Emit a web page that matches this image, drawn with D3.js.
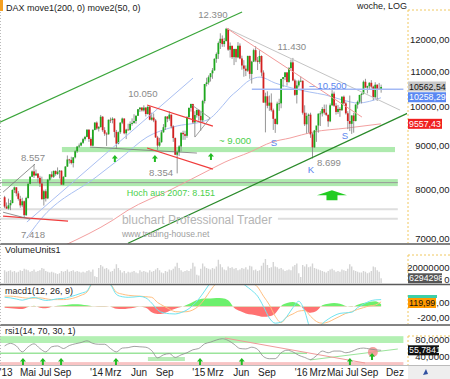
<!DOCTYPE html>
<html><head><meta charset="utf-8">
<script src="https://cdn.jsdelivr.net/npm/d3@7/dist/d3.min.js"></script>
<style>
body{margin:0;background:#fff;}
svg{display:block;font-family:"Liberation Sans",Arial,sans-serif;}
</style></head><body>
<svg id="c" width="450" height="379"></svg>
<script>
// ---------------- DATA ----------------
const startWeek = "2013-02-04";
// weekly candles [open, high, low, close]
const candles = [
[7830,7860,7600,7634],[7634,7720,7590,7593],[7593,7800,7570,7661],[7661,7770,7560,7708],[7708,8000,7700,7986],
[7986,8060,7920,8043],[8043,8050,7850,7912],[7912,7960,7760,7795],[7795,7860,7610,7659],[7659,7820,7620,7745],
[7745,7760,7418,7459],[7459,7840,7440,7814],[7814,8130,7800,8122],[8122,8290,8110,8278],[8278,8420,8270,8399],
[8399,8557,8250,8306],[8306,8440,8300,8349],[8349,8360,8150,8254],[8254,8300,8050,8127],[8127,8280,7780,7789],
[7789,7990,7655,7959],[7959,8000,7740,7806],[7806,8230,7790,8212],[8212,8340,8180,8331],[8331,8400,8240,8276],
[8276,8420,8250,8410],[8410,8420,8300,8338],[8338,8490,8320,8391],[8391,8430,8240,8416],[8416,8420,8100,8103],
[8103,8290,8090,8275],[8275,8520,8270,8510],[8510,8770,8500,8675],[8675,8690,8580,8665],[8665,8740,8560,8591],
[8591,8730,8490,8725],[8725,8900,8700,8870],[8870,9000,8830,8985],[8985,9060,8950,9010],[9010,9100,8990,9078],
[9078,9200,9050,9168],[9168,9250,9130,9224],[9224,9420,9210,9405],[9405,9420,9100,9172],[9172,9210,9010,9006],
[9006,9420,8990,9400],[9400,9600,9390,9589],[9589,9620,9400,9435],
[9435,9500,9360,9473],[9473,9790,9460,9743],[9743,9760,9350,9393],[9393,9470,9250,9306],[9306,9340,9000,9290],
[9290,9670,9280,9663],[9663,9720,9580,9657],[9657,9730,9570,9692],[9692,9700,9210,9350],[9350,9400,8935,9056],
[9056,9360,9040,9342],[9342,9600,9300,9587],[9587,9720,9550,9695],[9695,9700,9290,9315],[9315,9430,9170,9409],
[9409,9560,9390,9401],[9401,9620,9380,9556],[9556,9700,9510,9581],[9581,9810,9560,9630],[9630,9780,9560,9769],
[9769,9950,9760,9943],[9943,10000,9870,9987],[9987,10000,9880,9912],[9912,10050,9880,9987],[9987,10000,9750,9815],
[9815,10033,9800,10009],[10009,10030,9650,9666],[9666,9850,9640,9720],[9720,9830,9600,9644],[9644,9680,9200,9210],
[9210,9250,8903,9009],[9009,9200,8980,9092],[9092,9390,9080,9339],[9339,9550,9330,9470],[9470,9760,9400,9747],
[9747,9760,9600,9691],[9691,9890,9640,9799],[9799,9800,9440,9490],[9490,9520,9100,9195],[9195,9210,8780,8788],
[8788,8890,8354,8850],[8850,9020,8760,8988],[8988,9340,8870,9326],[9326,9380,9150,9291],[9291,9380,9150,9252],
[9252,9760,9200,9732],[9732,9990,9700,9980],[9980,10093,9880,10087],[10087,10090,9560,9594],[9594,9890,9220,9787],
[9787,9930,9720,9927],[9927,9930,9640,9765],
[9765,9880,9380,9648],[9648,10200,9600,10167],[10167,10650,10100,10649],[10649,10830,10580,10694],[10694,10900,10630,10847],
[10847,10970,10720,10963],[10963,11120,10800,11050],[11050,11420,11040,11401],[11401,11600,11280,11550],[11550,11950,11400,11901],
[11901,12220,11710,12040],[12040,12150,11780,11868],[11868,12070,11780,11967],[11967,12390,11950,12375],[12375,12380,11650,11689],
[11689,11920,11440,11811],[11811,11820,11400,11454],[11454,11720,11210,11709],[11709,11720,11300,11447],[11447,11930,11420,11815],
[11815,11890,11390,11413],[11413,11500,11070,11197],[11197,11360,10860,11100],[11100,11200,10880,11040],[11040,11500,11000,11492],
[11492,11500,10800,10945],[10945,11340,10660,11315],[11315,11720,11300,11674],[11674,11800,11300,11347],[11347,11460,11060,11308],
[11308,11670,11250,11490],[11490,11510,10870,10985],[10985,11050,10120,10124],[10124,10400,9338,10298],[10298,10440,9970,10039],
[10039,10320,9900,10123],[10123,10380,9880,9916],[9916,9960,9400,9688],[9688,9690,9325,9553],[9553,10150,9530,10097],
[10097,10230,9900,10104],[10104,10800,9970,10795],[10795,10850,10560,10850],[10850,11000,10760,10988],[10988,11000,10600,10708],
[10708,11150,10680,11119],[11119,11380,11040,11293],[11293,11430,10730,10752],[10752,10800,10310,10340],[10340,10750,10100,10608],
[10608,10770,10550,10727],[10727,10870,10700,10743],
[10743,10750,9800,9849],[9849,10050,9500,9545],[9545,9850,9310,9765],[9765,9830,9330,9798],[9798,9850,9200,9287],
[9287,9330,8699,8967],[8967,9400,8950,9388],[9388,9460,9100,9513],[9513,9830,9330,9824],[9824,9890,9500,9831],
[9831,10000,9750,9950],[9950,10070,9800,9851],[9851,10070,9760,9794],[9794,9800,9480,9622],[9622,10100,9600,10051],
[10051,10474,10030,10373],[10373,10430,10010,10039],[10039,10110,9800,9870],[9870,10060,9820,9952],[9952,10000,9740,9916],
[9916,10300,9900,10287],[10287,10320,10080,10103],[10103,10150,9800,9834],[9834,9890,9420,9631],[9631,10320,9370,9557],
[9557,9780,9300,9776],[9776,9850,9330,9630],[9630,10090,9620,10066],[10066,10180,9960,10147],[10147,10340,10100,10337],
[10337,10400,10100,10367],[10367,10750,10350,10713],[10713,10800,10540,10544],[10544,10600,10380,10587],[10587,10700,10500,10684],
[10684,10760,10520,10573],[10573,10600,10190,10276],[10276,10700,10240,10627],[10627,10640,10170,10511],[10511,10680,10480,10490],
[10490,10630,10400,10562.54]
];
// weekly volume, millions
const volumes = [
17,15,16,17,15,16,14,15,17,16, 19,18,17,15,16,18,15,16,17,20,
19,16,15,14,15,14,13,12,13,16, 15,16,18,15,16,17,15,16,15,14,
15,14,16,17,15,18,9,8,20,24, 22,19,20,18,15,16,19,25,20,17,
14,16,13,15,14,15,16,14,13,17, 15,16,15,14,17,15,16,18,20,17,
14,13,16,15,18,17,19,22,27,20, 17,15,16,17,16,19,27,22,11,10,
19,26,22,20,19,18,20,19,22,31, 25,21,18,17,22,20,21,19,20,17,
18,20,19,21,18,23,22,17,18,16, 17,23,27,32,24,20,21,28,22,21,
19,20,18,16,17,18,17,22,24,26, 13,8,24,22,25,21,22,26,20,19,
18,17,16,15,14,16,18,19,17,15, 16,15,18,17,16,19,25,22,17,16,
15,14,14,16,15,13,14,16,22,21, 17,15,6.294298
];
// indicators, sampled every 3 weeks
const indStep = 3;
const macdVals = [160,150,130,110,135,160,130,105,115,135,140,165,195,230,270,420,440,430,380,210,170,160,165,175,150,60,-60,-110,-125,-130,-105,-60,20,130,270,420,560,650,640,520,440,360,280,180,0,-200,-290,-270,-170,-20,90,-80,-380,-420,-300,-220,-160,-120,-110,-100,-20,40,90,115,120];
const signalVals = [180,180,170,155,145,145,150,135,120,120,120,130,155,195,250,410,430,420,385,250,215,195,185,180,170,160,70,10,-45,-90,-95,-90,-60,10,130,280,410,505,530,540,520,480,420,340,180,30,-170,-280,-180,-130,-80,-70,-170,-260,-290,-270,-220,-170,-120,-90,-50,-20,10,25,80];
const histVals = [-20,-30,-40,-45,-10,15,-20,-30,-5,15,20,35,40,35,20,5,10,10,-5,-40,-45,-35,-20,-5,-20,-100,-130,-120,-80,-40,-10,30,80,120,140,140,150,145,110,-20,-80,-120,-140,-160,-180,-170,-120,10,60,80,40,-60,-110,-80,20,50,60,50,10,-10,30,60,80,90,40];
const rsiVals = [66,72,66,52,64,71,60,52,64,66,60,67,71,74,78,72,70,70,60,52,61,62,65,64,63,55,38,45,48,39,45,50,57,60,71,75,80,83,79,70,60,59,63,58,41,36,36,50,56,52,44,39,34,43,54,50,54,54,50,53,59,61,59,57,55.78];
// moving averages [date, value]
const ma50 = [["2013-04-25",7000],["2013-06-13",7358],["2013-12-30",8270],["2014-04-01",8730],["2014-06-30",9220],["2014-09-30",9474],["2015-01-30",9655],["2015-04-04",10113],["2015-04-22",10278],["2015-05-17",10450],["2015-07-02",10764],["2015-08-07",10850],["2015-09-30",10676],["2015-11-29",10533],["2016-02-01",10418],["2016-03-26",10340],["2016-05-29",10195],["2016-07-22",10113],["2016-10-12",10258.29]];
const ma200 = [["2013-08-01",6780],["2013-09-10",6875],["2014-02-28",7358],["2014-04-23",7560],["2014-09-20",7984],["2015-02-20",8474],["2015-04-04",8614],["2015-07-02",8851],["2015-09-19",9095],["2015-11-22",9195],["2016-02-12",9346],["2016-06-12",9448],["2016-10-12",9557.43]];
// x axis labels
const xTickLabels = [["2013-01-01","'13"],["2013-05-01","Mai"],["2013-07-01","Jul"],["2013-09-01","Sep"],["2014-01-01","'14"],["2014-03-01","Mrz"],["2014-06-01","Jun"],["2014-09-01","Sep"],["2015-01-01","'15"],["2015-03-01","Mrz"],["2015-06-01","Jun"],["2015-09-01","Sep"],["2016-01-01","'16"],["2016-03-01","Mrz"],["2016-05-01","Mai"],["2016-07-01","Jul"],["2016-09-01","Sep"],["2016-12-01","Dez"]];
const priceTicks = [7000,8000,9000,10000,11000,12000];
const volTicks = [0,20];
const macdTicks = [0,-200];
const rsiTicks = [80,40];
// drawn annotations (date, price)
const trendLines = [
 [["2013-01-21",9600],["2015-06-04",12950],"#3aa53a",1.2],
 [["2014-04-23",6910],["2017-01-16",9840],"#2a8a2a",1.2],
 [["2013-04-27",7320],["2014-12-11",10820],"#aabff2",1],
 [["2015-04-10",12390],["2016-12-19",9920],"#c4c4c4",1],
 [["2015-04-10",12390],["2016-08-05",9735],"#f29a9a",1],
 [["2015-07-09",10500],["2016-12-31",10500],"#a3b9f5",1.5],
 [["2013-12-08",8973],["2014-12-25",8828],"#777",0.8],
 [["2014-06-30",10057],["2015-02-20",9499],"#f03c3c",1.2],
 [["2014-06-30",8949],["2015-02-20",8451],"#f03c3c",1.2],
 [["2014-12-07",10057],["2015-02-10",9708],"#888",0.8],
 [["2014-12-18",9220],["2015-02-10",9708],"#888",0.8],
 [["2013-02-01",7439],["2013-09-21",7338],"#f03c3c",1.2],
 [["2013-02-01",7940],["2013-05-26",8568],"#777",0.8],
 [["2013-02-01",7518],["2013-05-08",7378],"#777",0.8]
];
const priceBands = [["2013-08-30","2016-12-01",8850,8975],["2013-01-28","2016-12-11",8070,8225]];
const priceHLines = [["2013-01-01","2016-12-11",8147,"#999",1],["2013-01-01","2016-12-11",7580,"#dedede",2],["2013-01-01","2014-02-28",7388,"#dedede",2],["2015-10-10","2016-12-11",7388,"#dedede",2]];
const priceLabels = [
 ["2015-02-20",12840,"12.390","#8a8a8a"],["2015-11-29",11770,"11.430","#8a8a8a"],["2014-06-15",10360,"10.050","#8a8a8a"],
 ["2013-05-19",8730,"8.557","#8a8a8a"],["2014-08-19",8380,"8.354","#8a8a8a"],["2013-05-19",7080,"7.418","#8a8a8a"],
 ["2016-04-09",8610,"8.699","#8a8a8a"],["2015-09-26",9070,"S","#5b86ee"],["2016-06-05",9245,"S","#5b86ee"],
 ["2016-02-05",8450,"K","#5b86ee"],["2015-05-10",9120,"~ 9.000","#4ccf4c"],["2014-09-23",7920,"Hoch aus 2007: 8.151","#4ccf4c"],
 ["2016-04-06",10590,"– 10.500","#5b86ee"]
];
const priceArrows = [["2014-03-07",8779],["2014-07-28",8779],["2015-02-13",8828]];
const bigArrow = ["2016-04-20",7982];
const rsiBands = [["2013-01-01","2016-12-31",73,89,"#b3f0b3"],["2013-01-01","2016-12-31",21,28,"#f8c4c4"],["2014-07-03","2014-11-12",30.6,40,"#b8ecb8"]];
const rsiLinesA = [[["2013-01-01",48.7],["2016-01-22",48.7],"#9be49b",1.5],[["2016-02-01",33],["2016-12-11",58.8],"#9be49b",1],[["2015-04-04",84.7],["2016-08-16",25.9],"#f09a9a",1]];
const rsiCircle = ["2016-09-13",51.8];
const rsiArrows = [["2013-04-13",37.6],["2013-06-23",37.6],["2013-08-27",37.6],["2014-03-11",37.6],["2015-01-05",37.6],["2015-06-03",37.6],["2016-06-23",37.6],["2016-09-10",49.4]];
const lastValues = {close:"10562,54", ma50:"10258,29", ma200:"9557,43", vol:"6294298", macd:"119,99", rsi:"55,7841"};

// ---------------- SCALES ----------------
const svg = d3.select("#c");
const PR = 407;
const parse = d3.timeParse("%Y-%m-%d");
const x = d3.scaleTime().domain([new Date(2013,4,1), new Date(2016,11,1)]).range([28,395]);
const pY = d3.scaleLog().domain([7000,12000]).range([238.5,40]);
const vY = d3.scaleLinear().domain([0,20]).range([283,268]);
const mY = d3.scaleLinear().domain([0,-200]).range([306.5,318]);
const rY = d3.scaleLinear().domain([0,100]).range([374,331.5]);
const t0 = parse(startWeek);
const wk = i => new Date(t0.getTime() + (7*i+2.5)*864e5);

const defs = svg.append("defs");
function clip(id,x0,y0,w,h){defs.append("clipPath").attr("id",id).append("rect").attr("x",x0).attr("y",y0).attr("width",w).attr("height",h);}
clip("cp",0,0,PR,244); clip("cv",0,245,PR,39); clip("cm",0,285,PR,40); clip("cr",0,326,PR,39);
clip("cmPos",0,285,PR,306.5-285); clip("cmNeg",0,306.5,PR,20);

svg.append("rect").attr("width",450).attr("height",379).attr("fill","#fff");

// ---------------- PRICE PANEL ----------------
const gp = svg.append("g").attr("clip-path","url(#cp)");
priceBands.forEach(b=>{
  gp.append("rect").attr("x",x(parse(b[0]))).attr("width",x(parse(b[1]))-x(parse(b[0])))
    .attr("y",pY(b[3])).attr("height",pY(b[2])-pY(b[3])).attr("fill","#aeeaae");
});
priceHLines.forEach(l=>{
  gp.append("line").attr("x1",x(parse(l[0]))).attr("x2",x(parse(l[1]))).attr("y1",pY(l[2])).attr("y2",pY(l[2]))
    .attr("stroke",l[3]).attr("stroke-width",l[4]);
});
// watermark
svg.append("text").attr("x",x(parse("2014-02-28"))+9).attr("y",pY(7388)+5).attr("font-size",12).attr("fill","#b5b5b5").text("bluchart Professional Trader");
svg.append("text").attr("x",x(parse("2014-02-28"))+9).attr("y",pY(7388)+18).attr("font-size",8.6).attr("fill","#a0a0a0").text("www.trading-house.net");

const lineGen = d3.line().x(d=>x(parse(d[0]))).y(d=>pY(d[1]));
const curveGen = d3.line().curve(d3.curveMonotoneX).x(d=>x(parse(d[0]))).y(d=>pY(d[1]));
gp.append("path").attr("d",curveGen(ma200)).attr("fill","none").attr("stroke","#f3a0a0").attr("stroke-width",1);
gp.append("path").attr("d",curveGen(ma50)).attr("fill","none").attr("stroke","#a9c0f3").attr("stroke-width",1);

// candles
const cg = gp.append("g");
candles.forEach((c,i)=>{
  const cx = x(wk(i)); const up = c[3]>=c[0];
  cg.append("line").attr("x1",cx).attr("x2",cx).attr("y1",pY(c[1])).attr("y2",pY(c[2])).attr("stroke","#8a8a8a").attr("stroke-width",0.9);
  const yt = pY(Math.max(c[0],c[3])), yb = pY(Math.min(c[0],c[3]));
  cg.append("rect").attr("x",cx-0.9).attr("width",1.8).attr("y",yt).attr("height",Math.max(0.8,yb-yt))
    .attr("fill",up?"#1ea81e":"#d42020");
});
trendLines.forEach(t=>{
  gp.append("path").attr("d",lineGen([t[0],t[1]])).attr("fill","none").attr("stroke",t[2]).attr("stroke-width",t[3]);
});
priceLabels.forEach(l=>{
  gp.append("text").attr("x",x(parse(l[0]))).attr("y",pY(l[1])).attr("dy","0.35em").attr("text-anchor","middle")
    .attr("font-size",l[2].length>10?9:9.6).attr("fill",l[3]).text(l[2]);
});
function smallArrow(g,cx,ty,col){
  g.append("path").attr("d",`M${cx},${ty} L${cx+3},${ty+3.5} L${cx+1},${ty+3.5} L${cx+1},${ty+7} L${cx-1},${ty+7} L${cx-1},${ty+3.5} L${cx-3},${ty+3.5} Z`).attr("fill",col);
}
priceArrows.forEach(a=>smallArrow(gp,x(parse(a[0])),pY(a[1]),"#22bb22"));
{
  const cx = x(parse(bigArrow[0])), ty = pY(bigArrow[1]);
  gp.append("path").attr("d",`M${cx},${ty} L${cx+15},${ty+5} L${cx+5.5},${ty+5} L${cx+5.5},${ty+10} L${cx-5.5},${ty+10} L${cx-5.5},${ty+5} L${cx-15},${ty+5} Z`).attr("fill","#22cc22");
}

// title
svg.append("rect").attr("x",0).attr("y",0).attr("width",3).attr("height",11).attr("fill","#f5a020");
svg.append("text").attr("x",6).attr("y",11).attr("font-size",9).attr("fill","#222").text("DAX move1(200, 0) move2(50, 0)");
svg.append("text").attr("x",357).attr("y",9).attr("font-size",9).attr("fill","#222").text("woche, LOG");

// ---------------- VOLUME ----------------
const gv = svg.append("g").attr("clip-path","url(#cv)");
volumes.forEach((v,i)=>{
  const cx = x(wk(i));
  gv.append("rect").attr("x",cx-0.7).attr("width",1.4).attr("y",vY(v)).attr("height",vY(0)-vY(v)).attr("fill","#d4d4d4");
});
svg.append("text").attr("x",5).attr("y",253).attr("font-size",9).attr("fill","#222").text("VolumeUnits1");

// ---------------- MACD ----------------
const gm = svg.append("g").attr("clip-path","url(#cm)");
const ix = i => x(wk(i*indStep));
const hArea = d3.area().curve(d3.curveMonotoneX).x((d,i)=>ix(i)).y0(mY(0)).y1(d=>mY(d));
gm.append("path").attr("d",hArea(histVals)).attr("fill","#6cf06c").attr("clip-path","url(#cmPos)");
gm.append("path").attr("d",hArea(histVals)).attr("fill","#ff7272").attr("clip-path","url(#cmNeg)");
const mLine = d3.line().curve(d3.curveMonotoneX).x((d,i)=>ix(i)).y(d=>mY(d));
gm.append("path").attr("d",mLine(signalVals)).attr("fill","none").attr("stroke","#ffbf80").attr("stroke-width",1);
gm.append("path").attr("d",mLine(macdVals)).attr("fill","none").attr("stroke","#70e4f0").attr("stroke-width",1);
svg.append("text").attr("x",5).attr("y",293.5).attr("font-size",9).attr("fill","#222").text("macd1(12, 26, 9)");

// ---------------- RSI ----------------
const gr = svg.append("g").attr("clip-path","url(#cr)");
rsiBands.forEach(b=>{
  gr.append("rect").attr("x",x(parse(b[0]))).attr("width",x(parse(b[1]))-x(parse(b[0]))).attr("y",rY(b[3])).attr("height",rY(b[2])-rY(b[3])).attr("fill",b[4]);
});
const rLineA = d3.line().x(d=>x(parse(d[0]))).y(d=>rY(d[1]));
rsiLinesA.forEach(l=>gr.append("path").attr("d",rLineA([l[0],l[1]])).attr("fill","none").attr("stroke",l[2]).attr("stroke-width",l[3]));
gr.append("circle").attr("cx",x(parse(rsiCircle[0]))).attr("cy",rY(rsiCircle[1])).attr("r",5).attr("fill","#f28888").attr("opacity",0.8);
const rLine = d3.line().curve(d3.curveMonotoneX).x((d,i)=>ix(i)).y(d=>rY(d));
gr.append("path").attr("d",rLine(rsiVals)).attr("fill","none").attr("stroke","#8a8a8a").attr("stroke-width",0.8);
rsiArrows.forEach(a=>smallArrow(gr,x(parse(a[0])),rY(a[1]),"#22bb22"));
svg.append("text").attr("x",5).attr("y",334).attr("font-size",9).attr("fill","#222").text("rsi1(14, 70, 30, 1)");

// ---------------- SEPARATORS / FRAME ----------------
[244,284.5,325].forEach(y=>svg.append("line").attr("x1",0).attr("x2",450).attr("y1",y).attr("y2",y).attr("stroke","#5a5a5a").attr("stroke-width",1.5));
svg.append("line").attr("x1",0).attr("x2",450).attr("y1",365.5).attr("y2",365.5).attr("stroke","#aaa").attr("stroke-width",0.8);
svg.append("line").attr("x1",0.5).attr("x2",0.5).attr("y1",12).attr("y2",365).attr("stroke","#bbb").attr("stroke-dasharray","1,2");
const dash = (x1,y1,x2,y2)=>svg.append("line").attr("x1",x1).attr("y1",y1).attr("x2",x2).attr("y2",y2).attr("stroke","#f0c860").attr("stroke-dasharray","2,2").attr("stroke-width",1);
dash(408,10,408,243); dash(408,10,450,10);
dash(408,255,408,283); dash(408,255,450,255);
dash(408,295,408,324);
dash(408,336,408,365); dash(408,336,450,336);

// ---------------- RIGHT AXES ----------------
const fmt2 = v=>d3.format(".2f")(v).replace(".",",").replace("−","-");
const fmt4 = v=>d3.format(".4f")(v).replace(".",",");
const AX = 449.5, AF = 9.5;
priceTicks.forEach(v=>svg.append("text").attr("x",AX).attr("y",pY(v)).attr("dy","0.35em").attr("text-anchor","end").attr("font-size",AF).attr("fill","#222").text(fmt2(v)));
function valBox(y,text,bg,fg,w){
  svg.append("rect").attr("x",408).attr("y",y-5).attr("width",w).attr("height",10).attr("fill",bg);
  svg.append("text").attr("x",409).attr("y",y).attr("dy","0.35em").attr("font-size",8.8).attr("fill",fg).text(text);
}
valBox(pY(10562.54)-0.5,lastValues.close,"#c8c8c8","#111",38);
valBox(pY(10258.29)-0.5,lastValues.ma50,"#5a88f2","#fff",38);
valBox(pY(9557.43),lastValues.ma200,"#f02020","#fff",34);
// volume
svg.append("text").attr("x",AX).attr("y",vY(volTicks[1])).attr("dy","0.35em").attr("text-anchor","end").attr("font-size",AF).attr("fill","#222").text(d3.format("d")(volTicks[1]*1e6));
svg.append("text").attr("x",AX).attr("y",vY(volTicks[0])-3).attr("dy","0.35em").attr("text-anchor","end").attr("font-size",AF).attr("fill","#222").text("0");
valBox(vY(6.294298),lastValues.vol,"#555","#fff",34);
// macd
svg.append("text").attr("x",AX).attr("y",mY(macdTicks[0])-3.5).attr("dy","0.35em").attr("text-anchor","end").attr("font-size",AF).attr("fill","#222").text(fmt2(macdTicks[0]));
svg.append("text").attr("x",AX).attr("y",mY(macdTicks[1])).attr("dy","0.35em").attr("text-anchor","end").attr("font-size",AF).attr("fill","#222").text(fmt2(macdTicks[1]));
svg.append("rect").attr("x",408).attr("y",295).attr("width",29).attr("height",3).attr("fill","#3ccfa8");
valBox(303,lastValues.macd,"#ff9a00","#111",28);
// rsi
rsiTicks.forEach(v=>svg.append("text").attr("x",AX).attr("y",rY(v)).attr("dy","0.35em").attr("text-anchor","end").attr("font-size",AF).attr("fill","#222").text(fmt4(v)));
valBox(rY(55.7841),lastValues.rsi,"#111","#fff",31);

// ---------------- X AXIS ----------------
xTickLabels.forEach(t=>{
  const px = Math.max(6, x(parse(t[0])));
  svg.append("text").attr("x",px).attr("y",376).attr("text-anchor","middle").attr("font-size",10).attr("fill","#222").text(t[1]);
});
svg.append("rect").attr("x",408).attr("y",366).attr("width",42).attr("height",13).attr("fill","#eeeeee");
svg.append("path").attr("d","M423,375 L426,369 L428,374 Z").attr("fill","#3050a0");
</script>
</body></html>
